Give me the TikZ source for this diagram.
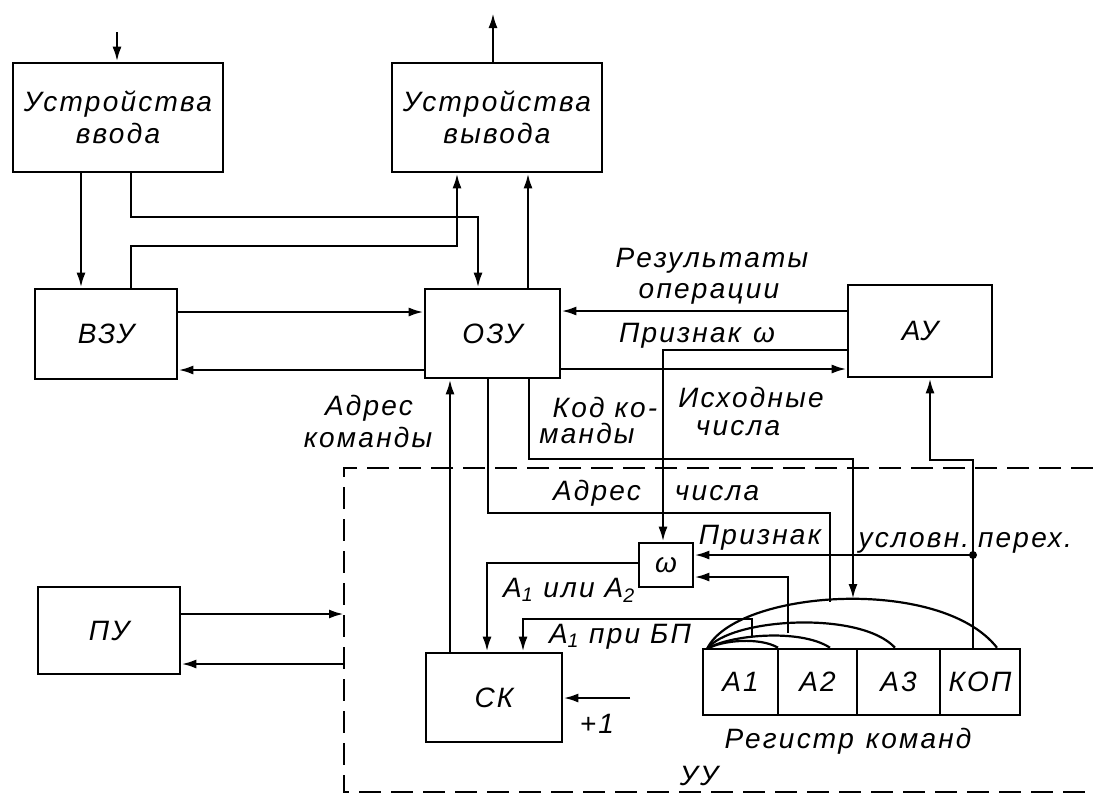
\documentclass[tikz,border=0pt]{standalone}
\usepackage{fontspec}
\setmainfont{Liberation Sans}[LetterSpace=8]
\usetikzlibrary{arrows.meta}
\newcommand\lblfont{\fontsize{28}{32}\selectfont\itshape}
\begin{document}
\begin{tikzpicture}[x=1pt,y=-1pt,
  ln/.style={line width=2.6pt},
  arr/.style={line width=2.6pt,-{Latex[length=15pt,width=9pt]}},
  arcln/.style={line width=2.2pt},
  box/.style={draw,line width=2.6pt,inner sep=0pt,font=\lblfont,align=center},
  lbl/.style={inner sep=0pt,font=\lblfont,text height=20pt,text depth=0pt},
  dsh/.style={line width=2.6pt,dash pattern=on 22pt off 10pt}]
\useasboundingbox (0,0) rectangle (1093,796);
\fill[white] (0,0) rectangle (1093,796);

% boxes
\node[box,minimum width=210pt,minimum height=109pt] (in) at (118,117.5) {Устройства\\ввода};
\node[box,minimum width=210pt,minimum height=109pt] (out) at (497,117.5) {Устройства\\вывода};
\node[box,minimum width=142pt,minimum height=90pt] (vzu) at (106,334) {ВЗУ};
\node[box,minimum width=135pt,minimum height=89pt] (ozu) at (492.5,333.5) {ОЗУ};
\node[box,minimum width=144pt,minimum height=92pt] (au) at (920,331) {АУ};
\node[box,minimum width=142pt,minimum height=87pt] (pu) at (109,630.5) {ПУ};
\node[box,minimum width=136pt,minimum height=89pt] (sk) at (494,697.5) {СК};
\node[box,minimum width=54pt,minimum height=44pt] (om) at (666,565) {ω};
\node[box,minimum width=75pt,minimum height=66pt] (a1) at (740.5,682) {А1};
\node[box,minimum width=79pt,minimum height=66pt] (a2) at (817.5,682) {А2};
\node[box,minimum width=83pt,minimum height=66pt] (a3) at (898.5,682) {А3};
\node[box,minimum width=80pt,minimum height=66pt] (kop) at (980,682) {КОП};

% labels
\node[lbl] (tRez) at (712,257) {Результаты};
\node[lbl] (tOp) at (709,288) {операции};
\node[lbl] (tPw) at (697,332) {Признак\hspace{12pt}ω};
\node[lbl] (tAk1) at (369,405) {Адрес};
\node[lbl] (tAk2) at (368,437) {команды};
\node[lbl] (tKk1) at (605,407) {Код ко-};
\node[lbl] (tKk2) at (587,433) {манды};
\node[lbl] (tIs1) at (751,397) {Исходные};
\node[lbl] (tIs2) at (738,425) {числа};
\node[lbl] (tAc1) at (597,490) {Адрес};
\node[lbl] (tAc2) at (717,490) {числа};
\node[lbl] (tPr) at (760,534) {Признак};
\node[lbl] (tUs) at (914,537) {условн.};
\node[lbl] (tPe) at (1025,537) {перех.};
\node[lbl] (tA12) at (569,587) {А\textsubscript{1} или А\textsubscript{2}};
\node[lbl] (tA1b) at (620,633) {А\textsubscript{1} при БП};
\node[lbl] (tP1) at (597,723) {+1};
\node[lbl] (tReg) at (848,738) {Регистр\hspace{12pt}команд};
\node[lbl] (tUU) at (699,775) {УУ};

% free ends
\coordinate (inTop) at (117,32);
\coordinate (outTop) at (493,13);
\coordinate (dot) at (973,555);
\coordinate (plus) at (630,698);
\coordinate (uuA) at (344,614);
\coordinate (uuB) at (344,664);
\coordinate (fan) at (707,649);

% connectors
\draw[arr] (inTop) -- (in.north -| inTop);
\draw[arr] (out.north -| outTop) -- (outTop);
\draw[arr] (in.south -| 81,0) -- (vzu.north -| 81,0);
\draw[arr] (in.south -| 131,0) -- (131,217) -- (478,217) -- (ozu.north -| 478,0);
\draw[arr] (vzu.north -| 131,0) -- (131,246) -- (457,246) -- (out.south -| 457,0);
\draw[arr] (ozu.north -| 528,0) -- (out.south -| 528,0);
\draw[arr] (vzu.east |- 0,312) -- (ozu.west |- 0,312);
\draw[arr] (ozu.west |- 0,370) -- (vzu.east |- 0,370);
\draw[arr] (au.west |- 0,311) -- (ozu.east |- 0,311);
\draw[arr] (ozu.east |- 0,369) -- (au.west |- 0,369);
\draw[arr] (au.west |- 0,350) -- (663,350) -- (om.north -| 663,0);
\draw[arr] (sk.north -| 450,0) -- (ozu.south -| 450,0);
\draw[ln] (ozu.south -| 488,0) -- (488,513) -- (830,513) -- (830,602);
\draw[arr] (ozu.south -| 529,0) -- (529,459) -- (853,459) -- (853,599);
\draw[arr] (om.west |- 0,563) -- (487,563) -- (sk.north -| 487,0);
\draw[arr] (752,637) -- (752,619) -- (523,619) -- (sk.north -| 523,0);
\draw[arr] (788,633) -- (788,577) -- (om.east |- 0,577);
\draw[arr] (kop.north -| dot) -- (973,460) -- (930,460) -- (au.south -| 930,0);
\fill (dot) circle (4pt);
\draw[arr] (dot) -- (om.east |- dot);
\draw[arr] (plus) -- (sk.east |- plus);
\draw[arr] (pu.east |- uuA) -- (uuA);
\draw[arr] (uuB) -- (pu.east |- uuB);

% register fan arcs
\draw[arcln] (fan) .. controls (735,590) and (940,575) .. (kop.north -| 997,0);
\draw[arcln] (fan) .. controls (730,618) and (860,610) .. (a3.north -| 895,0);
\draw[arcln] (fan) .. controls (728,635) and (800,628) .. (a2.north -| 830,0);
\draw[arcln] (fan) .. controls (722,640) and (760,637) .. (a2.north -| 778,0);

% control unit boundary
\draw[dsh] (1093,468) -- (344,468) -- (344,792) -- (1093,792);
\end{tikzpicture}
\end{document}
